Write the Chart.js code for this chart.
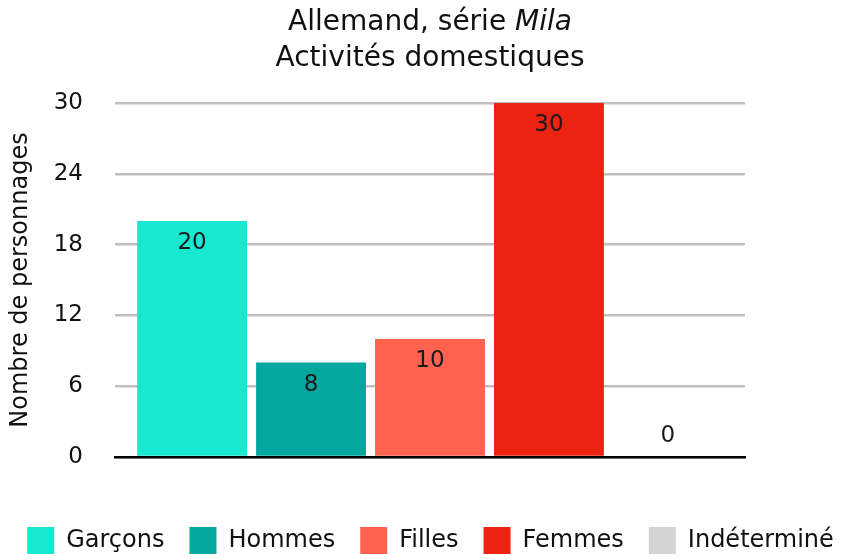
<!DOCTYPE html>
<html>
<head>
<meta charset="utf-8">
<script src="https://cdn.jsdelivr.net/npm/chart.js@4"></script>
<style>
  html, body { margin: 0; padding: 0; background: #fff; }
  #wrap { width: 861px; height: 560px; }
</style>
</head>
<body>
<div id="wrap"><canvas id="myChart" width="861" height="560"></canvas></div>
<script>
// data
const titleLine1 = "Allemand, série ";
const titleItalic = "Mila";
const titleLine2 = "Activités domestiques";
const yAxisTitle = "Nombre de personnages";
const categories = ["Activités domestiques"];
const seriesNames = ["Garçons", "Hommes", "Filles", "Femmes", "Indéterminé"];
const seriesValues = [20, 8, 10, 30, 0];
const yTicks = [0, 6, 12, 18, 24, 30];

const colors = ["#17e8d0", "#02a89d", "#ff6350", "#ee2211", "#d4d4d4"];
const FONT = "'DejaVu Sans', sans-serif";

// two line title, "Mila" in italic
const titlePlugin = {
  id: "mixedTitle",
  afterDraw(chart) {
    const ctx = chart.ctx;
    const cx = 430;
    ctx.save();
    ctx.fillStyle = "#111";
    ctx.textBaseline = "middle";
    ctx.font = "28px " + FONT;
    const w1 = ctx.measureText(titleLine1).width;
    ctx.font = "italic 28px " + FONT;
    const w2 = ctx.measureText(titleItalic).width;
    let x = cx - (w1 + w2) / 2;
    ctx.textAlign = "left";
    ctx.font = "28px " + FONT;
    ctx.fillText(titleLine1, x, 23);
    ctx.font = "italic 28px " + FONT;
    ctx.fillText(titleItalic, x + w1, 23);
    ctx.font = "28px " + FONT;
    ctx.textAlign = "center";
    ctx.fillText(titleLine2, cx, 59);
    ctx.restore();
  }
};

// value labels inside the top of each bar
const valueLabels = {
  id: "valueLabels",
  afterDatasetsDraw(chart) {
    const ctx = chart.ctx;
    ctx.save();
    ctx.font = "23px " + FONT;
    ctx.fillStyle = "#1a1a1a";
    ctx.textAlign = "center";
    ctx.textBaseline = "middle";
    chart.data.datasets.forEach((ds, i) => {
      const bar = chart.getDatasetMeta(i).data[0];
      const v = ds.data[0];
      const y = v > 0 ? bar.y + 22 : bar.y - 21;
      ctx.fillText(String(v), bar.x, y);
    });
    ctx.restore();
  }
};

// nudge the legend a little lower
const legendShift = {
  id: "legendShift",
  afterLayout(chart) {
    if (chart.legend) {
      chart.legend.top += 4;
      chart.legend.bottom += 4;
    }
  }
};

const datasets = seriesNames.map((name, i) => ({
  label: name,
  data: [seriesValues[i]],
  backgroundColor: colors[i],
  borderWidth: 0,
  categoryPercentage: 0.944,
  barPercentage: 0.924
}));

const ctx = document.getElementById("myChart").getContext("2d");
const chart = new Chart(ctx, {
  type: "bar",
  data: { labels: categories, datasets: datasets },
  plugins: [titlePlugin, valueLabels, legendShift],
  options: {
    responsive: false,
    animation: false,
    layout: { padding: { top: 103, right: 0, left: 0, bottom: 0 } },
    plugins: {
      title: { display: false },
      tooltip: { enabled: false },
      legend: {
        position: "bottom",
        labels: {
          boxWidth: 27,
          boxHeight: 27,
          padding: 25,
          color: "#111",
          font: { family: FONT, size: 24 }
        }
      }
    },
    scales: {
      x: {
        grid: { display: false },
        ticks: { display: false },
        border: { color: "#000", width: 2.5 },
        afterFit(scale) { scale.height = 41; }
      },
      y: {
        min: 0,
        max: 30,
        afterBuildTicks(scale) { scale.ticks = yTicks.map(v => ({ value: v })); },
        afterFit(scale) { scale.width = 115; },
        grid: { color: "#c0c0c0", lineWidth: 2.5, drawTicks: false },
        border: { display: false },
        ticks: { color: "#111", padding: 32, font: { family: FONT, size: 23 } },
        title: {
          display: true,
          text: yAxisTitle,
          color: "#111",
          padding: { top: 6, bottom: 0 },
          font: { family: FONT, size: 24 }
        }
      },
      // empty right-hand spacer so the plot stops at the same place
      spacer: {
        type: "linear",
        position: "right",
        grid: { display: false },
        ticks: { display: false },
        border: { display: false },
        afterFit(scale) { scale.width = 116; }
      }
    }
  }
});
</script>
</body>
</html>
